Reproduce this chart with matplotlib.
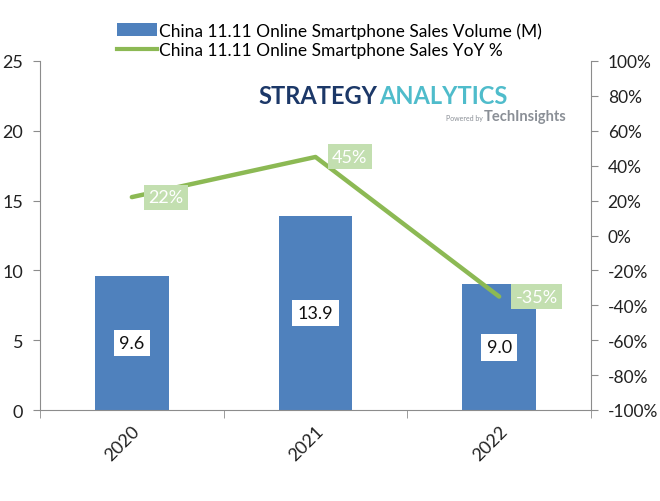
import matplotlib
matplotlib.use("Agg")
import matplotlib.pyplot as plt
from matplotlib.patches import Patch
from matplotlib.lines import Line2D

years = ["2020", "2021", "2022"]
volume = [9.6, 13.9, 9.0]
yoy = [22, 45, -35]
left_ticks = [0, 5, 10, 15, 20, 25]
right_ticks = [-100, -80, -60, -40, -20, 0, 20, 40, 60, 80, 100]

plt.rcParams['font.family'] = ['Lato', 'DejaVu Sans']
BLUE = '#4f81bd'
GREEN = '#8cb954'
LGREEN = '#c3dfb0'
AX = '#8c8c8c'

fig = plt.figure(figsize=(6.6, 5.02), dpi=100)
ax = fig.add_axes([40/660, 1-411/502, 551/660, 349/502])
x = list(range(len(years)))
ax.bar(x, volume, width=0.4, color=BLUE, zorder=2)
ax.set_xlim(-0.5, 2.5)
ax.set_ylim(0, 25)
ax.set_yticks(left_ticks)
ax.set_yticklabels([str(t) for t in left_ticks], fontsize=13)
for s in ['top', 'right']:
    ax.spines[s].set_visible(False)
for s in ['left', 'bottom']:
    ax.spines[s].set_color(AX)
ax.tick_params(axis='y', colors=AX, labelcolor='#222222', length=5, direction='out', pad=7)
ax.set_xticks(x)
ax.set_xticklabels(years, rotation=45, ha='right', rotation_mode='anchor', fontsize=13, color='#222222')
ax.tick_params(axis='x', length=0, pad=9)
ax.set_xticks([-0.5, 0.5, 1.5, 2.5], minor=True)
ax.tick_params(axis='x', which='minor', length=6, color=AX, direction='out')

for xi, v in zip(x, volume):
    ax.text(xi, v/2, f"{v:.1f}", ha='center', va='center', fontsize=13, color='#111111',
            bbox=dict(boxstyle='square,pad=0.3', fc='white', ec='none'), zorder=4)

ax2 = ax.twinx()
ax2.set_ylim(-100, 100)
ax2.set_yticks(right_ticks)
ax2.set_yticklabels([f"{t}%" for t in right_ticks], fontsize=12.5)
for s in ['top', 'left', 'bottom']:
    ax2.spines[s].set_visible(False)
ax2.spines['right'].set_color(AX)
ax2.tick_params(axis='y', colors=AX, labelcolor='#222222', length=5, direction='out', pad=7)
ax2.plot(x, yoy, color=GREEN, lw=3.2, solid_capstyle='round', zorder=3)
for xi, v in zip(x, yoy):
    ax2.annotate(f"{v}%", (xi, v), xytext=(12, 0), textcoords='offset points',
                 ha='left', va='center', fontsize=13, color='white',
                 bbox=dict(boxstyle='square,pad=0.25', fc=LGREEN, ec='none'), zorder=5)

handles = [Patch(facecolor=BLUE, edgecolor='none'),
           Line2D([0], [0], color=GREEN, lw=3)]
labels = ["China 11.11 Online Smartphone Sales Volume (M)",
          "China 11.11 Online Smartphone Sales YoY %"]
fig.legend(handles, labels, loc='upper left', bbox_to_anchor=(110/660, 1-16/502),
           frameon=False, fontsize=12.5, handlelength=2.3, handleheight=0.7,
           handletextpad=0.15, labelspacing=0.2, borderaxespad=0)

# logo
t1 = fig.text(258/660, 1-96/502, "STRATEGY", fontsize=17, fontweight='bold', color='#1c3868',
              ha='left', va='center')
fig.canvas.draw()
bb = t1.get_window_extent()
fig.text(bb.x1/660 + 2/660, 1-96/502, "ANALYTICS", fontsize=17, fontweight='bold', color='#4fbccb',
         ha='left', va='center')
fig.text(566/660, 1-117/502, "TechInsights", fontsize=10.5, fontweight='bold', color='#8a8f96',
         ha='right', va='center')
fig.text(483/660, 1-118/502, "Powered by", fontsize=5, color='#8a8f96', ha='right', va='center')

fig.savefig("out.png", dpi=100)
